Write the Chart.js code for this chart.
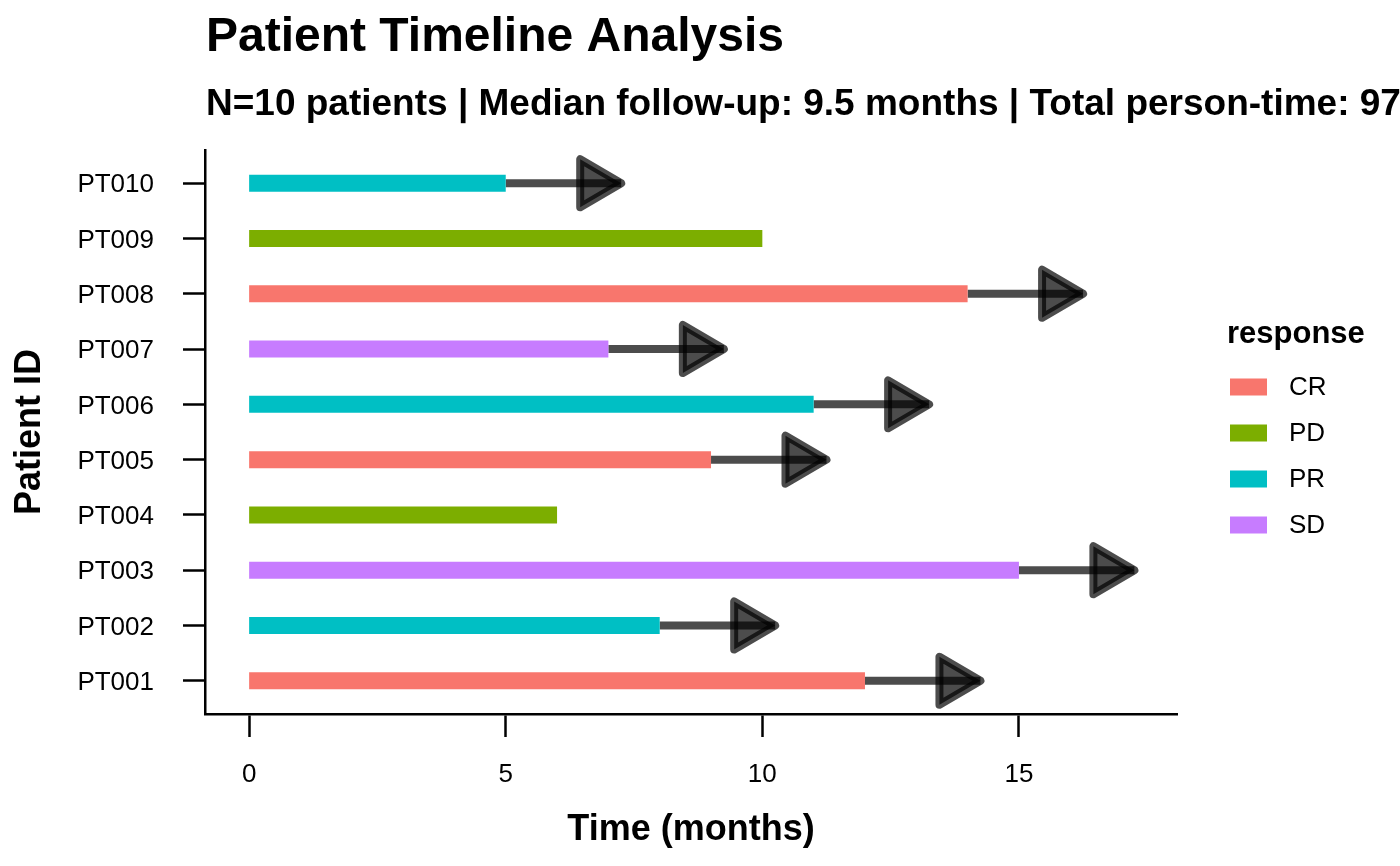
<!DOCTYPE html>
<html>
<head>
<meta charset="utf-8">
<script src="https://cdn.jsdelivr.net/npm/chart.js@4.4.1/dist/chart.umd.min.js"></script>
<style>
  html, body { margin: 0; padding: 0; background: #fff; }
  canvas { display: block; }
</style>
</head>
<body>
<canvas id="timelineChart" width="1400" height="866"></canvas>
<script>
// data
var patients = ['PT001', 'PT002', 'PT003', 'PT004', 'PT005', 'PT006', 'PT007', 'PT008', 'PT009', 'PT010'];
var followUp = [12, 8, 15, 6, 9, 11, 7, 14, 10, 5];
var response = ['CR', 'PR', 'SD', 'PD', 'CR', 'PR', 'SD', 'CR', 'PD', 'PR'];
var ongoing = [true, true, true, false, true, true, true, true, false, true];
var arrowLength = 2.25;
var responseLevels = ['CR', 'PD', 'PR', 'SD'];
var responseColors = ['#F8766D', '#7CAE00', '#00BFC4', '#C77CFF'];
var xTicks = [0, 5, 10, 15];

var titleText = 'Patient Timeline Analysis';
var subtitleText = 'N=10 patients | Median follow-up: 9.5 months | Total person-time: 97 months';

Chart.defaults.font.family = '"Liberation Sans", Arial, Helvetica, sans-serif';
Chart.defaults.color = '#000';

var arrowColor = 'rgba(0,0,0,0.7)';

var datasets = [];
patients.forEach(function(p, i) {
	datasets.push({
		label: p,
		data: [{x: 0, y: i}, {x: followUp[i], y: i}],
		showLine: true,
		borderColor: responseColors[responseLevels.indexOf(response[i])],
		borderWidth: 17,
		borderCapStyle: 'butt',
		pointRadius: 0,
		pointHoverRadius: 0
	});
});
patients.forEach(function(p, i) {
	if (!ongoing[i]) return;
	datasets.push({
		label: p + ' ongoing',
		isArrow: true,
		data: [{x: followUp[i], y: i}, {x: followUp[i] + arrowLength, y: i}],
		showLine: true,
		borderColor: arrowColor,
		borderWidth: 8,
		borderCapStyle: 'butt',
		pointRadius: 0,
		pointHoverRadius: 0
	});
});

// closed arrow heads at the end of each ongoing segment
var arrowHeads = {
	id: 'arrowHeads',
	afterDatasetsDraw: function(chart) {
		var ctx = chart.ctx;
		chart.data.datasets.forEach(function(ds, i) {
			if (!ds.isArrow) return;
			var pt = chart.getDatasetMeta(i).data[1];
			ctx.save();
			ctx.beginPath();
			ctx.moveTo(pt.x, pt.y);
			ctx.lineTo(pt.x - 41, pt.y - 24);
			ctx.lineTo(pt.x - 41, pt.y + 24);
			ctx.closePath();
			ctx.fillStyle = arrowColor;
			ctx.fill();
			ctx.lineWidth = 8;
			ctx.lineJoin = 'round';
			ctx.strokeStyle = arrowColor;
			ctx.stroke();
			ctx.restore();
		});
	}
};

// title, subtitle and the response legend
var annotations = {
	id: 'annotations',
	afterDraw: function(chart) {
		var ctx = chart.ctx;
		var fam = Chart.defaults.font.family;
		ctx.save();
		ctx.fillStyle = '#000';
		ctx.textAlign = 'left';
		ctx.textBaseline = 'alphabetic';
		ctx.font = 'bold 48px ' + fam;
		ctx.fillText(titleText, 206, 51);
		ctx.font = 'bold 37px ' + fam;
		ctx.fillText(subtitleText, 206, 115);

		ctx.font = 'bold 31px ' + fam;
		ctx.fillText('response', 1227, 343);
		ctx.font = '26px ' + fam;
		ctx.textBaseline = 'middle';
		responseLevels.forEach(function(lv, k) {
			var cy = 387 + k * 46;
			ctx.fillStyle = responseColors[k];
			ctx.fillRect(1230, cy - 8.5, 37, 17);
			ctx.fillStyle = '#000';
			ctx.fillText(lv, 1289, cy + 1);
		});
		ctx.restore();
	}
};

var timelineChart = new Chart(document.getElementById('timelineChart'), {
	type: 'scatter',
	data: { datasets: datasets },
	plugins: [arrowHeads, annotations],
	options: {
		responsive: false,
		animation: false,
		events: [],
		layout: { padding: { top: 150, right: 223, bottom: 0, left: 0 } },
		plugins: {
			legend: { display: false },
			tooltip: { enabled: false },
			title: { display: false }
		},
		scales: {
			x: {
				type: 'linear',
				min: -0.86,
				max: 18.08,
				afterBuildTicks: function(s) { s.ticks = xTicks.map(function(v) { return {value: v}; }); },
				afterFit: function(s) { s.height = 152; },
				border: { display: true, color: '#000', width: 2.5 },
				grid: { drawOnChartArea: false, drawTicks: true, tickLength: 23, tickWidth: 2.5, color: '#000' },
				ticks: { color: '#000', font: { size: 26 }, padding: 22, maxRotation: 0 },
				title: { display: true, text: 'Time (months)', color: '#000', font: { size: 36, weight: 'bold' }, padding: { top: 0, bottom: 14 } }
			},
			y: {
				type: 'linear',
				min: -0.6,
				max: 9.6,
				afterBuildTicks: function(s) { s.ticks = patients.map(function(p, i) { return {value: i}; }); },
				afterFit: function(s) { s.width = 205; },
				border: { display: true, color: '#000', width: 2.5 },
				grid: { drawOnChartArea: false, drawTicks: true, tickLength: 22, tickWidth: 2.5, color: '#000' },
				ticks: { color: '#000', font: { size: 26 }, padding: 29, labelOffset: 2, autoSkip: false, callback: function(v) { return patients[v]; } },
				title: { display: true, text: 'Patient ID', color: '#000', font: { size: 36, weight: 'bold' }, padding: { top: 8, bottom: 0 } }
			}
		}
	}
});
</script>
</body>
</html>
